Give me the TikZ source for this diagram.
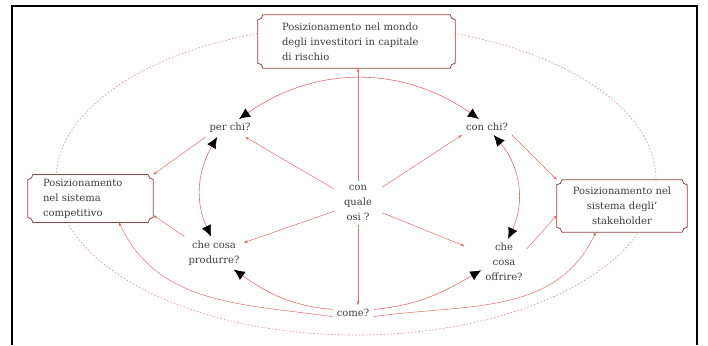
\documentclass[tikz,border=0pt]{standalone}
\usepackage{fontspec}
\setmainfont{DejaVu Serif}
\definecolor{linkred}{RGB}{222,110,110}
\definecolor{plaquered}{RGB}{140,70,70}
\definecolor{inkgrey}{RGB}{60,60,60}
\usetikzlibrary{arrows.meta, positioning, backgrounds}

% outline with hollowed corners round a named node
\newcommand{\plaque}[1]{%
  \filldraw[draw=plaquered, fill=white, line width=0.8pt]
    ([xshift=5pt]#1.north west) -- ([xshift=-5pt]#1.north east)
    to[bend right=45] ([yshift=-5pt]#1.north east) -- ([yshift=5pt]#1.south east)
    to[bend right=45] ([xshift=-5pt]#1.south east) -- ([xshift=5pt]#1.south west)
    to[bend right=45] ([yshift=5pt]#1.south west) -- ([yshift=-5pt]#1.north west)
    to[bend right=45] ([xshift=5pt]#1.north west) -- cycle;}

\begin{document}
\begin{tikzpicture}[x=1pt, y=1pt, font=\fontsize{10}{15}\selectfont, text=inkgrey,
  blacktip/.tip={Latex[length=11pt, width=10pt, color=black]},
  redtip/.tip={Stealth[length=4pt, width=3pt]},
  ask/.style={align=center, inner sep=4pt},
  plaquetext/.style={align=left, inner ysep=4pt},
  sweep/.style={draw=linkred, line width=0.6pt},
  link/.style={draw=linkred, line width=0.5pt, -redtip}]
  \useasboundingbox (0,0) rectangle (708,345);
  \draw[line width=2pt] (12,0) -- (12,339) -- (697,339) -- (697,0);

  \node[ask, inner xsep=10pt] (osi) at (358,142) {con\\quale\\osi ?};
  \node[ask] (perchi) at (230,217) {per chi?};
  \node[ask] (conchi) at (487,218) {con chi?};
  \node[ask] (produrre) at (214,92) {che cosa\\produrre?};
  \node[ask] (offrire) at (504,83) {che\\cosa\\offrire?};
  \node[ask] (come) at (353,32) {come?};
  \node[plaquetext, text width=149pt, inner xsep=24pt, minimum height=53pt] (mondo) at (356.5,303.5)
    {Posizionamento nel mondo\\degli investitori in capitale\\di rischio};
  \node[plaquetext, text width=95pt, inner xsep=15pt, minimum height=47pt] (competitivo) at (90.5,146.5)
    {Posizionamento\\nel sistema\\competitivo};
  \node[plaquetext, align=center, text width=104pt, inner xsep=13pt, minimum height=52pt] (stakeholder) at (622,139)
    {Posizionamento nel\\sistema degli'\\stakeholder};

  \begin{scope}[on background layer]
    \draw[linkred!80, line width=0.6pt, dash pattern=on 1.5pt off 2pt] (356,165) ellipse [x radius=300, y radius=155];
    \plaque{mondo}
    \plaque{competitivo}
    \plaque{stakeholder}
  \end{scope}

  % the ring of questions
  \draw[sweep, blacktip-blacktip] (perchi.45) to[out=35, in=145] (conchi.135);
  \draw[sweep, blacktip-blacktip] (perchi.215) to[out=240, in=115] (produrre.100);
  \draw[sweep, blacktip-blacktip] (conchi.-50) to[out=-50, in=65] (offrire.80);
  \draw[sweep, -blacktip] (come.170) to[out=175, in=-35] (produrre.-40);
  \draw[sweep, -blacktip] (come.10) to[out=5, in=210] (offrire.200);

  \draw[link] (osi) -- (perchi);
  \draw[link] (osi) -- (produrre);
  \draw[link] (osi) -- (conchi.south west);
  \draw[link, shorten >=18pt] (osi) -- (offrire);
  \draw[link] (osi.north) -- (osi.north |- mondo.south);
  \draw[link] (osi.south) -- (osi.south |- come.north);

  \draw[link] (perchi.south west) -- (competitivo.north east);
  \draw[link] (produrre.north west) -- (competitivo.-15);
  \draw[link] (come.190) to[out=172, in=-65] (competitivo.-40);
  \draw[link] (conchi.south east) -- (stakeholder.north west);
  \draw[link] (offrire.30) -- (stakeholder.188);
  \draw[link] (come.-10) to[out=8, in=245] (stakeholder.225);
\end{tikzpicture}
\end{document}
